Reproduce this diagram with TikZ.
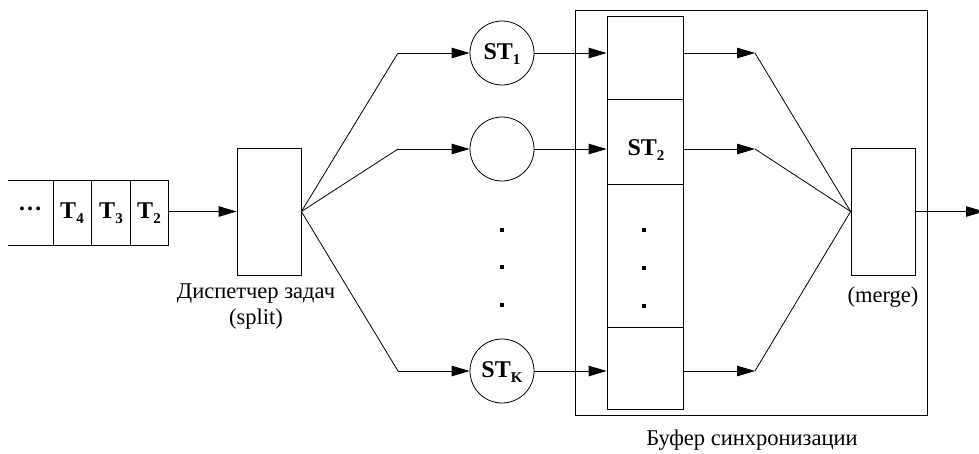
\documentclass[tikz,border=0pt]{standalone}
\usepackage{fontspec}
\setmainfont{Liberation Serif}
\usetikzlibrary{arrows.meta}
\newcommand\mysub[1]{\raisebox{-0.45ex}{\fontsize{15}{15}\selectfont #1}}
\begin{document}
\begin{tikzpicture}[x=1pt,y=-1pt,line width=0.8pt,
  arr/.style={-{Triangle[length=18pt,width=10.5pt]}},
  lbl/.style={font=\fontsize{22.5}{26}\selectfont, inner sep=0pt},
  bt/.style={font=\fontsize{24}{26}\bfseries\selectfont, inner sep=0pt},
  box/.style={draw, minimum width=64pt, minimum height=127pt, inner sep=0pt},
  proc/.style={draw, circle, minimum size=64pt, inner sep=0pt},
  dotm/.style={fill=black, minimum size=3.5pt, inner sep=0pt}]
\useasboundingbox (0,0) rectangle (979,453);
% queue
\draw (8,180) -- (168,180) -- (168,245) -- (8,245);
\draw (53,180) -- (53,245) (91,180) -- (91,245) (130,180) -- (130,245);
\coordinate (qout) at (168,211.5);
\node[bt] (qd) at (30,209) {\textbf{\dots}};
\node[bt] (t4) at (72,213) {T\mysub{4}};
\node[bt] (t3) at (111,213) {T\mysub{3}};
\node[bt] (t2) at (149,213) {T\mysub{2}};
% dispatcher
\node[box] (split) at (269,211.5) {};
\node[lbl, align=center] (splitl) at (256,307) {Диспетчер задач\\(split)};
\draw[arr] (qout) -- (split.west);
% fan-out
\coordinate (f1) at (398,53);
\coordinate (f2) at (398,149);
\coordinate (f3) at (398,371);
\node[proc] (st1) at (502,53) {};
\node[bt] (st1l) at (502,54) {ST\mysub{1}};
\node[proc] (st2) at (502,149) {};
\node[proc] (stk) at (502,371) {};
\node[bt] (stkl) at (502,372) {ST\mysub{K}};
\draw (split.east) -- (f1); \draw[arr] (f1) -- (st1.west);
\draw (split.east) -- (f2); \draw[arr] (f2) -- (st2.west);
\draw (split.east) -- (f3); \draw[arr] (f3) -- (stk.west);
\node[dotm] (d1) at (502,230) {};
\node[dotm] (d2) at (502,267) {};
\node[dotm] (d3) at (502,305) {};
% buffer
\node[draw, minimum width=352pt, minimum height=405pt, inner sep=0pt] (buf) at (751,212.5) {};
\node[lbl] (bufl) at (752,440) {Буфер синхронизации};
\node[draw, minimum width=76pt, minimum height=83pt, inner sep=0pt] (c1) at (645,57.5) {};
\node[draw, minimum width=76pt, minimum height=85pt, inner sep=0pt] (c2) at (645,141.5) {};
\node[draw, minimum width=76pt, minimum height=143pt, inner sep=0pt] (c3) at (645,255.5) {};
\node[draw, minimum width=76pt, minimum height=82pt, inner sep=0pt] (c4) at (645,368) {};
\node[bt] (st2l) at (646,150) {ST\mysub{2}};
\node[dotm] (e1) at (644,230) {};
\node[dotm] (e2) at (644,268) {};
\node[dotm] (e3) at (644,306) {};
\draw[arr] (st1.east) -- (c1.west |- st1.east);
\draw[arr] (st2.east) -- (c2.west |- st2.east);
\draw[arr] (stk.east) -- (c4.west |- stk.east);
% merge
\node[box] (merge) at (883,211.5) {};
\node[lbl] (mergel) at (883,297) {(merge)};
\coordinate (g1) at (755,53);
\coordinate (g2) at (755,149);
\coordinate (g3) at (755,371);
\draw[arr] (c1.east |- g1) -- (g1); \draw (g1) -- (merge.west);
\draw[arr] (c2.east |- g2) -- (g2); \draw (g2) -- (merge.west);
\draw[arr] (c4.east |- g3) -- (g3); \draw (g3) -- (merge.west);
\coordinate (out) at (984,211.5);
\draw[arr] (merge.east) -- (out);
\end{tikzpicture}
\end{document}
